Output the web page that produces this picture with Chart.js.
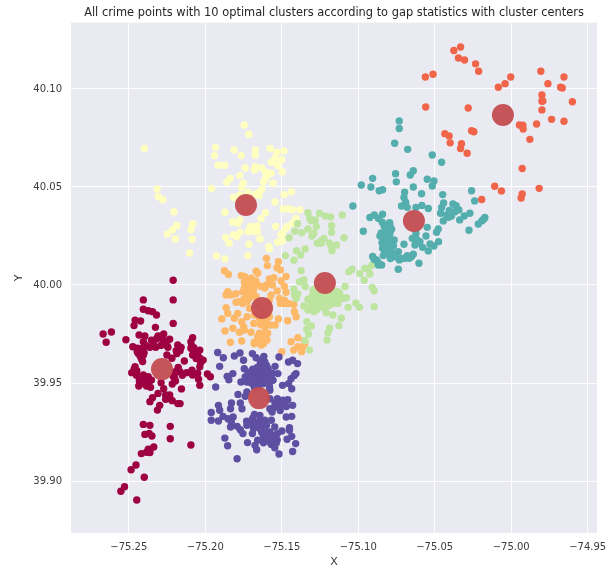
<!DOCTYPE html>
<html><head><meta charset="utf-8">
<style>html,body{margin:0;padding:0;background:#fff}#w{position:relative;width:616px;height:569px}</style>
<script src="https://cdn.jsdelivr.net/npm/chart.js@4"></script></head>
<body><div id="w"><canvas id="c" width="616" height="569"></canvas></div>
<script>
const titleText="All crime points with 10 optimal clusters according to gap statistics with cluster centers";
const xTicks=[-75.25,-75.20,-75.15,-75.10,-75.05,-75.00,-74.95];
const yTicks=[39.90,39.95,40.00,40.05,40.10];
const clusterColors=["#f0654a","#54aead","#5e4fa2","#9e0142","#bee5a0","#fdb868","#ffffbf"];
const crimson=[[-75.2210,40.0024],[-75.2210,39.9924],[-75.2405,39.9924],[-75.2210,39.9804],[-75.2405,39.9876],[-75.2373,39.9869],[-75.2345,39.9864],[-75.2319,39.9847],[-75.2459,39.9821],[-75.2423,39.9816],[-75.2466,39.9793],[-75.2326,39.9784],[-75.2433,39.9745],[-75.2395,39.9740],[-75.2668,39.9750],[-75.2614,39.9760],[-75.2648,39.9708],[-75.2519,39.9721],[-75.2405,39.9711],[-75.2352,39.9719],[-75.2309,39.9740],[-75.2272,39.9750],[-75.2233,39.9723],[-75.2259,39.9711],[-75.2083,39.9731],[-75.2094,39.9711],[-75.2474,39.9685],[-75.2444,39.9677],[-75.2405,39.9682],[-75.2362,39.9682],[-75.2324,39.9682],[-75.2291,39.9692],[-75.2244,39.9682],[-75.2180,39.9694],[-75.2190,39.9665],[-75.2158,39.9682],[-75.2094,39.9677],[-75.2083,39.9643],[-75.2036,39.9668],[-75.2036,39.9626],[-75.2014,39.9617],[-75.2036,39.9583],[-75.2438,39.9651],[-75.2405,39.9643],[-75.2416,39.9621],[-75.2251,39.9643],[-75.2218,39.9626],[-75.2137,39.9612],[-75.2459,39.9583],[-75.2481,39.9553],[-75.2448,39.9563],[-75.2177,39.9580],[-75.2165,39.9558],[-75.2201,39.9549],[-75.2122,39.9553],[-75.2087,39.9566],[-75.2083,39.9541],[-75.1986,39.9546],[-75.1967,39.9532],[-75.2044,39.9519],[-75.2036,39.9488],[-75.2405,39.9541],[-75.2373,39.9532],[-75.2352,39.9515],[-75.2431,39.9512],[-75.2435,39.9485],[-75.2384,39.9485],[-75.2358,39.9478],[-75.2289,39.9502],[-75.2272,39.9471],[-75.2201,39.9524],[-75.2216,39.9495],[-75.2156,39.9470],[-75.2309,39.9447],[-75.2259,39.9439],[-75.2233,39.9439],[-75.2259,39.9417],[-75.2345,39.9425],[-75.2362,39.9405],[-75.2216,39.9410],[-75.2180,39.9395],[-75.2165,39.9395],[-75.2298,39.9386],[-75.2313,39.9362],[-75.2405,39.9289],[-75.2362,39.9284],[-75.2229,39.9279],[-75.2395,39.9238],[-75.2367,39.9243],[-75.2349,39.9230],[-75.2229,39.9216],[-75.2094,39.9184],[-75.2337,39.9174],[-75.2373,39.9162],[-75.2362,39.9145],[-75.2384,39.9147],[-75.2418,39.9140],[-75.2453,39.9082],[-75.2485,39.9058],[-75.2399,39.9019],[-75.2528,39.8971],[-75.2552,39.8948],[-75.2448,39.8903],[-75.2445,39.9660],[-75.2420,39.9660],[-75.2400,39.9655],[-75.2425,39.9635],[-75.2410,39.9610],[-75.2175,39.9675],[-75.2165,39.9665],[-75.2185,39.9650],[-75.2070,39.9655],[-75.2050,39.9645],[-75.2060,39.9625],[-75.2030,39.9605],[-75.2075,39.9680],[-75.2090,39.9690],[-75.2465,39.9570],[-75.2450,39.9540],[-75.2390,39.9520],[-75.2395,39.9495],[-75.2370,39.9500],[-75.2210,39.9535],[-75.2195,39.9510],[-75.2250,39.9690],[-75.2340,39.9700],[-75.2385,39.9690],[-75.2320,39.9725],[-75.2280,39.9725],[-75.2190,39.9560],[-75.2150,39.9540],[-75.2050,39.9550],[-75.2240,39.9430],[-75.2230,39.9420]];
const violet=[[-75.1919,39.9656],[-75.1882,39.9629],[-75.1810,39.9638],[-75.1773,39.9653],[-75.1692,39.9650],[-75.1668,39.9629],[-75.1750,39.9616],[-75.1906,39.9585],[-75.1745,39.9573],[-75.1617,39.9636],[-75.1518,39.9633],[-75.1456,39.9607],[-75.1429,39.9616],[-75.1397,39.9599],[-75.1544,39.9585],[-75.1820,39.9548],[-75.1857,39.9534],[-75.1846,39.9517],[-75.1932,39.9480],[-75.1767,39.9505],[-75.1739,39.9531],[-75.1707,39.9556],[-75.1675,39.9565],[-75.1643,39.9590],[-75.1611,39.9607],[-75.1589,39.9573],[-75.1621,39.9556],[-75.1653,39.9539],[-75.1696,39.9522],[-75.1728,39.9505],[-75.1675,39.9505],[-75.1632,39.9522],[-75.1589,39.9539],[-75.1557,39.9514],[-75.1525,39.9548],[-75.1578,39.9505],[-75.1418,39.9539],[-75.1439,39.9522],[-75.1407,39.9548],[-75.1456,39.9497],[-75.1495,39.9488],[-75.1435,39.9471],[-75.1786,39.9442],[-75.1728,39.9454],[-75.1739,39.9432],[-75.1578,39.9463],[-75.1829,39.9398],[-75.1771,39.9398],[-75.1835,39.9369],[-75.1760,39.9369],[-75.1914,39.9386],[-75.1906,39.9361],[-75.1961,39.9350],[-75.1961,39.9310],[-75.1914,39.9306],[-75.1884,39.9330],[-75.1852,39.9318],[-75.1818,39.9327],[-75.1835,39.9276],[-75.1792,39.9279],[-75.1771,39.9262],[-75.1754,39.9242],[-75.1728,39.9284],[-75.1696,39.9310],[-75.1679,39.9340],[-75.1643,39.9335],[-75.1611,39.9310],[-75.1568,39.9310],[-75.1546,39.9276],[-75.1685,39.9267],[-75.1653,39.9293],[-75.1600,39.9284],[-75.1499,39.9255],[-75.1450,39.9272],[-75.1450,39.9259],[-75.1692,39.9242],[-75.1621,39.9233],[-75.1589,39.9225],[-75.1546,39.9233],[-75.1529,39.9242],[-75.1872,39.9219],[-75.1854,39.9180],[-75.1724,39.9196],[-75.1658,39.9208],[-75.1675,39.9182],[-75.1664,39.9160],[-75.1792,39.9114],[-75.1600,39.9208],[-75.1568,39.9187],[-75.1536,39.9194],[-75.1546,39.9170],[-75.1518,39.9138],[-75.1465,39.9213],[-75.1435,39.9228],[-75.1409,39.9191],[-75.1429,39.9151],[-75.1578,39.9369],[-75.1546,39.9378],[-75.1525,39.9395],[-75.1529,39.9420],[-75.1493,39.9412],[-75.1461,39.9415],[-75.1429,39.9386],[-75.1508,39.9386],[-75.1471,39.9327],[-75.1435,39.9330],[-75.1563,39.9352],[-75.1578,39.9420],[-75.1700,39.9540],[-75.1610,39.9540],[-75.1640,39.9556],[-75.1680,39.9548],[-75.1650,39.9505],[-75.1620,39.9497],[-75.1600,39.9505],[-75.1632,39.9250],[-75.1600,39.9250],[-75.1578,39.9250],[-75.1640,39.9265],[-75.1720,39.9550],[-75.1700,39.9500],[-75.1690,39.9570],[-75.1660,39.9580],[-75.1630,39.9600],[-75.1615,39.9580],[-75.1600,39.9560],[-75.1640,39.9540],[-75.1660,39.9520],[-75.1680,39.9530],[-75.1710,39.9515],[-75.1620,39.9530],[-75.1570,39.9530],[-75.1560,39.9550],[-75.1640,39.9610],[-75.1625,39.9620],[-75.1600,39.9590],[-75.1680,39.9480],[-75.1650,39.9480],[-75.1580,39.9480],[-75.1690,39.9320],[-75.1670,39.9300],[-75.1640,39.9310],[-75.1625,39.9285],[-75.1680,39.9285],[-75.1620,39.9210],[-75.1600,39.9230],[-75.1560,39.9210],[-75.1530,39.9210],[-75.1580,39.9200],[-75.1620,39.9195],[-75.1730,39.9305],[-75.1710,39.9290],[-75.1490,39.9395],[-75.1510,39.9360],[-75.1545,39.9400],[-75.1470,39.9380],[-75.1830,39.9300]];
const sand=[[-75.1600,40.0136],[-75.1594,40.0099],[-75.1522,40.0119],[-75.1531,40.0088],[-75.1509,40.0077],[-75.1875,40.0073],[-75.1849,40.0054],[-75.1766,40.0048],[-75.1744,40.0043],[-75.1668,40.0071],[-75.1657,40.0060],[-75.1552,40.0037],[-75.1581,40.0031],[-75.1504,40.0020],[-75.1472,40.0043],[-75.1483,39.9992],[-75.1472,39.9963],[-75.1733,40.0003],[-75.1701,40.0009],[-75.1722,39.9983],[-75.1755,39.9966],[-75.1657,40.0000],[-75.1635,39.9992],[-75.1685,39.9975],[-75.1853,39.9966],[-75.1864,39.9949],[-75.1831,39.9949],[-75.1777,39.9915],[-75.1799,39.9912],[-75.1755,39.9906],[-75.1690,39.9958],[-75.1668,39.9940],[-75.1711,39.9932],[-75.1727,39.9915],[-75.1570,39.9949],[-75.1581,39.9923],[-75.1483,39.9923],[-75.1509,39.9906],[-75.1515,39.9932],[-75.1456,39.9906],[-75.1422,39.9901],[-75.1711,39.9881],[-75.1727,39.9838],[-75.1864,39.9884],[-75.1853,39.9855],[-75.1788,39.9855],[-75.1810,39.9830],[-75.1892,39.9827],[-75.1820,39.9779],[-75.1871,39.9765],[-75.1762,39.9813],[-75.1749,39.9787],[-75.1777,39.9759],[-75.1744,39.9770],[-75.1683,39.9804],[-75.1701,39.9759],[-75.1646,39.9754],[-75.1631,39.9796],[-75.1609,39.9787],[-75.1574,39.9796],[-75.1544,39.9796],[-75.1522,39.9827],[-75.1461,39.9818],[-75.1417,39.9864],[-75.1406,39.9838],[-75.1581,39.9838],[-75.1836,39.9708],[-75.1762,39.9714],[-75.1679,39.9708],[-75.1657,39.9708],[-75.1618,39.9714],[-75.1596,39.9719],[-75.1657,39.9736],[-75.1613,39.9754],[-75.1592,39.9754],[-75.1439,39.9711],[-75.1395,39.9731],[-75.1422,39.9668],[-75.1500,39.9660],[-75.1679,39.9847],[-75.1646,39.9830],[-75.1624,39.9822],[-75.1352,39.9716],[-75.1635,39.9694],[-75.1363,39.9685],[-75.1395,39.9685],[-75.1745,40.0015],[-75.1720,40.0025],[-75.1700,40.0035],[-75.1685,40.0015],[-75.1670,40.0020],[-75.1710,40.0000],[-75.1695,39.9990],[-75.1745,39.9985],[-75.1600,40.0000],[-75.1580,40.0020],[-75.1610,39.9985],[-75.1560,40.0000],[-75.1530,39.9970],[-75.1480,39.9905],[-75.1800,39.9955],[-75.1720,39.9950],[-75.1745,39.9930],[-75.1655,39.9900],[-75.1625,39.9870],[-75.1610,39.9845],[-75.1640,39.9800],[-75.1600,39.9810],[-75.1680,39.9700],[-75.1620,39.9700],[-75.1640,39.9735],[-75.1350,39.9700],[-75.1370,39.9660]];
const cream=[[-75.2398,40.0697],[-75.1745,40.0816],[-75.1715,40.0769],[-75.1934,40.0702],[-75.1940,40.0660],[-75.1812,40.0689],[-75.1765,40.0660],[-75.1673,40.0689],[-75.1673,40.0663],[-75.1576,40.0697],[-75.1533,40.0677],[-75.1486,40.0684],[-75.1501,40.0639],[-75.1544,40.0646],[-75.1570,40.0626],[-75.1527,40.0609],[-75.1917,40.0611],[-75.1874,40.0611],[-75.1739,40.0597],[-75.1673,40.0604],[-75.1679,40.0587],[-75.1630,40.0597],[-75.1606,40.0575],[-75.1570,40.0570],[-75.1591,40.0561],[-75.1497,40.0578],[-75.1775,40.0558],[-75.1837,40.0544],[-75.1859,40.0524],[-75.1752,40.0519],[-75.1762,40.0498],[-75.1606,40.0544],[-75.1619,40.0527],[-75.1557,40.0519],[-75.1959,40.0492],[-75.1630,40.0490],[-75.1645,40.0473],[-75.2315,40.0490],[-75.2308,40.0451],[-75.2278,40.0435],[-75.1816,40.0446],[-75.1773,40.0459],[-75.1720,40.0473],[-75.1670,40.0464],[-75.1649,40.0456],[-75.1484,40.0461],[-75.1437,40.0476],[-75.1544,40.0423],[-75.2205,40.0374],[-75.1872,40.0371],[-75.1606,40.0369],[-75.1491,40.0388],[-75.1456,40.0389],[-75.1431,40.0384],[-75.1382,40.0384],[-75.1636,40.0340],[-75.2186,40.0304],[-75.2214,40.0282],[-75.2248,40.0260],[-75.2081,40.0313],[-75.2094,40.0282],[-75.1822,40.0321],[-75.1775,40.0332],[-75.1788,40.0315],[-75.1540,40.0298],[-75.1407,40.0340],[-75.1431,40.0315],[-75.1474,40.0289],[-75.1495,40.0264],[-75.1662,40.0303],[-75.1705,40.0298],[-75.1720,40.0272],[-75.1677,40.0272],[-75.1658,40.0272],[-75.2195,40.0235],[-75.2086,40.0233],[-75.1816,40.0255],[-75.1773,40.0269],[-75.1795,40.0247],[-75.1867,40.0242],[-75.1844,40.0213],[-75.1643,40.0235],[-75.1715,40.0208],[-75.1527,40.0218],[-75.1495,40.0225],[-75.1585,40.0196],[-75.1581,40.0184],[-75.2103,40.0163],[-75.1927,40.0148],[-75.1872,40.0133],[-75.1722,40.0150],[-75.1463,40.0298],[-75.1506,40.0255]];
const mint=[[-75.1329,40.0369],[-75.1253,40.0366],[-75.1215,40.0352],[-75.1180,40.0347],[-75.1104,40.0357],[-75.1318,40.0340],[-75.1281,40.0332],[-75.1307,40.0328],[-75.1397,40.0313],[-75.1174,40.0304],[-75.1274,40.0298],[-75.1329,40.0286],[-75.1369,40.0267],[-75.1415,40.0274],[-75.1174,40.0269],[-75.1290,40.0264],[-75.1303,40.0250],[-75.1452,40.0241],[-75.1093,40.0241],[-75.1224,40.0238],[-75.1242,40.0226],[-75.1268,40.0213],[-75.1242,40.0213],[-75.1187,40.0213],[-75.1143,40.0204],[-75.1176,40.0196],[-75.1171,40.0175],[-75.1404,40.0175],[-75.1347,40.0184],[-75.1377,40.0153],[-75.1421,40.0126],[-75.1476,40.0150],[-75.1373,40.0073],[-75.1384,40.0017],[-75.1355,40.0026],[-75.1347,39.9992],[-75.1421,39.9978],[-75.1417,39.9949],[-75.1395,39.9954],[-75.1406,39.9932],[-75.1062,40.0068],[-75.1040,40.0080],[-75.0990,40.0058],[-75.0957,40.0085],[-75.0935,40.0085],[-75.0909,40.0102],[-75.0924,40.0056],[-75.0961,40.0024],[-75.0909,39.9988],[-75.0896,39.9971],[-75.1086,39.9992],[-75.1296,39.9974],[-75.1274,39.9949],[-75.1329,39.9927],[-75.1307,39.9915],[-75.1263,39.9923],[-75.1231,39.9932],[-75.1187,39.9941],[-75.1154,39.9949],[-75.1121,39.9958],[-75.1099,39.9932],[-75.1077,39.9935],[-75.1143,39.9923],[-75.1198,39.9915],[-75.1253,39.9898],[-75.1285,39.9889],[-75.1329,39.9873],[-75.1355,39.9893],[-75.1220,39.9881],[-75.1290,39.9864],[-75.1209,39.9859],[-75.1165,39.9847],[-75.1066,39.9886],[-75.1016,39.9908],[-75.0992,39.9886],[-75.0896,39.9889],[-75.1110,39.9830],[-75.1126,39.9793],[-75.1336,39.9813],[-75.1307,39.9791],[-75.1336,39.9774],[-75.1325,39.9750],[-75.1187,39.9779],[-75.1198,39.9757],[-75.1204,39.9720],[-75.1347,39.9716],[-75.1132,39.9906],[-75.1165,39.9906],[-75.1318,39.9668],[-75.1290,39.9960],[-75.1280,39.9940],[-75.1300,39.9945],[-75.1250,39.9950],[-75.1260,39.9935],[-75.1240,39.9915],[-75.1210,39.9925],[-75.1220,39.9945],[-75.1200,39.9950],[-75.1170,39.9925],[-75.1175,39.9955],[-75.1150,39.9930],[-75.1130,39.9940],[-75.1115,39.9930],[-75.1280,39.9910],[-75.1310,39.9895],[-75.1240,39.9890],[-75.1225,39.9900],[-75.1270,39.9875],[-75.1190,39.9895],[-75.1260,39.9975],[-75.1275,39.9985],[-75.1155,39.9970],[-75.1130,39.9965]];
const teal=[[-75.0732,40.0837],[-75.0732,40.0798],[-75.0762,40.0723],[-75.0677,40.0692],[-75.0516,40.0663],[-75.0455,40.0626],[-75.0756,40.0568],[-75.0640,40.0583],[-75.0660,40.0561],[-75.0906,40.0544],[-75.0980,40.0510],[-75.0917,40.0500],[-75.0863,40.0481],[-75.0841,40.0486],[-75.0751,40.0526],[-75.0640,40.0500],[-75.0549,40.0539],[-75.0505,40.0531],[-75.0516,40.0505],[-75.0697,40.0473],[-75.0586,40.0466],[-75.0448,40.0461],[-75.0259,40.0481],[-75.0239,40.0429],[-75.1035,40.0403],[-75.0701,40.0446],[-75.0690,40.0422],[-75.0717,40.0403],[-75.0680,40.0396],[-75.0623,40.0395],[-75.0584,40.0406],[-75.0542,40.0390],[-75.0442,40.0418],[-75.0455,40.0395],[-75.0381,40.0413],[-75.0342,40.0383],[-75.0368,40.0374],[-75.0390,40.0352],[-75.0462,40.0366],[-75.0422,40.0356],[-75.0444,40.0327],[-75.0337,40.0332],[-75.0307,40.0352],[-75.0270,40.0366],[-75.0172,40.0344],[-75.0191,40.0328],[-75.0215,40.0311],[-75.0276,40.0279],[-75.0924,40.0344],[-75.0895,40.0357],[-75.0841,40.0361],[-75.0869,40.0340],[-75.0843,40.0320],[-75.0795,40.0318],[-75.0815,40.0281],[-75.0782,40.0284],[-75.0967,40.0274],[-75.0549,40.0294],[-75.0477,40.0286],[-75.0488,40.0269],[-75.0858,40.0250],[-75.0836,40.0238],[-75.0793,40.0260],[-75.0765,40.0230],[-75.0782,40.0213],[-75.0804,40.0196],[-75.0841,40.0187],[-75.0826,40.0170],[-75.0836,40.0150],[-75.0782,40.0140],[-75.0771,40.0162],[-75.0738,40.0170],[-75.0732,40.0128],[-75.0695,40.0136],[-75.0651,40.0145],[-75.0640,40.0157],[-75.0701,40.0208],[-75.0647,40.0238],[-75.0623,40.0264],[-75.0557,40.0250],[-75.0629,40.0204],[-75.0579,40.0192],[-75.0597,40.0221],[-75.0531,40.0209],[-75.0505,40.0199],[-75.0475,40.0221],[-75.0542,40.0174],[-75.0906,40.0145],[-75.0880,40.0128],[-75.0869,40.0102],[-75.0847,40.0102],[-75.0603,40.0111],[-75.0738,40.0080],[-75.0793,40.0306],[-75.0826,40.0255],[-75.0826,40.0221],[-75.0666,40.0136],[-75.0810,40.0250],[-75.0800,40.0225],[-75.0815,40.0210],[-75.0790,40.0185],[-75.0810,40.0160],[-75.0845,40.0215],[-75.0770,40.0200],[-75.0755,40.0150],[-75.0715,40.0135],[-75.0680,40.0150],[-75.0620,40.0235],[-75.0610,40.0215],[-75.0405,40.0380],[-75.0410,40.0345],[-75.0360,40.0405],[-75.0180,40.0335],[-75.0810,40.0295],[-75.0830,40.0300],[-75.0850,40.0265],[-75.0825,40.0195],[-75.0895,40.0130],[-75.0870,40.0115],[-75.0790,40.0135],[-75.0755,40.0145]];
const coral=[[-75.0375,40.1196],[-75.0331,40.1214],[-75.0345,40.1158],[-75.0305,40.1148],[-75.0233,40.1128],[-75.0213,40.1090],[-75.0561,40.1061],[-75.0511,40.1075],[-75.0003,40.1061],[-75.0040,40.1027],[-75.0084,40.1009],[-74.9806,40.1090],[-74.9760,40.1027],[-74.9655,40.1061],[-74.9677,40.1009],[-74.9666,40.1005],[-74.9799,40.0969],[-74.9793,40.0939],[-74.9799,40.0937],[-74.9600,40.0935],[-74.9799,40.0893],[-75.0559,40.0908],[-75.0281,40.0903],[-74.9736,40.0845],[-74.9655,40.0835],[-74.9834,40.0821],[-74.9946,40.0816],[-74.9924,40.0815],[-74.9922,40.0796],[-74.9878,40.0743],[-75.0434,40.0772],[-75.0406,40.0760],[-75.0399,40.0725],[-75.0325,40.0721],[-75.0331,40.0696],[-75.0288,40.0672],[-75.0259,40.0787],[-75.0244,40.0782],[-74.9928,40.0594],[-75.0108,40.0504],[-75.0064,40.0480],[-74.9928,40.0464],[-74.9935,40.0444],[-74.9817,40.0493],[-75.0193,40.0436]];
const centers=[[-75.2283,39.9571],[-75.1629,39.9883],[-75.1734,40.0408],[-75.1218,40.0010],[-75.0636,40.0327],[-75.1649,39.9423],[-75.0054,40.0867]];
const clusters=[coral,teal,violet,crimson,mint,sand,cream];
const toXY=a=>a.map(p=>({x:p[0],y:p[1]}));
const ink="#3b3b3b", fontFam="'DejaVu Sans',sans-serif";
const datasets=[{data:toXY(centers),backgroundColor:"rgba(196,78,82,0.96)",pointRadius:11,pointBorderWidth:0,pointHoverRadius:11,order:0}];
clusters.forEach((c,i)=>datasets.push({data:toXY(c),backgroundColor:clusterColors[i],pointRadius:3.7,pointBorderWidth:0,order:i+1}));
const fix=(values)=>(s)=>{s.ticks=values.map(v=>({value:v}));};
new Chart(document.getElementById("c"),{type:"scatter",data:{datasets},
options:{responsive:false,animation:false,events:[],
layout:{padding:{left:0,right:19,top:0,bottom:0}},
plugins:{legend:{display:false},tooltip:{enabled:false},
title:{display:true,fullSize:false,text:titleText,color:"#262626",font:{family:fontFam,size:11.4,weight:"normal"},padding:{top:6,bottom:3}}},
scales:{
x:{type:"linear",min:-75.2878,max:-74.9439,afterBuildTicks:fix(xTicks),afterFit:s=>{s.height=36;},
 grid:{color:"#ffffff",lineWidth:1,drawTicks:false},border:{display:false},
 ticks:{autoSkip:false,maxRotation:0,padding:8,color:ink,font:{family:fontFam,size:10},callback:v=>v.toFixed(2).replace("-","\u2212")},
 title:{display:true,text:"X",color:ink,font:{family:fontFam,size:11},padding:{top:2,bottom:0}}},
y:{type:"linear",min:39.8735,max:40.1338,afterBuildTicks:fix(yTicks),afterFit:s=>{s.width=71;},
 grid:{color:"#ffffff",lineWidth:1,drawTicks:false},border:{display:false},
 ticks:{autoSkip:false,padding:9,color:ink,font:{family:fontFam,size:10},callback:v=>v.toFixed(2)},
 title:{display:true,text:"Y",color:ink,font:{family:fontFam,size:11},padding:{top:13,bottom:0}}}
}},
plugins:[{id:"bg",beforeDraw(ch){const a=ch.chartArea,g=ch.ctx;g.save();g.fillStyle="#eaeaf2";g.fillRect(a.left,a.top,a.right-a.left,a.bottom-a.top);g.restore();}}]
});
</script></body></html>
